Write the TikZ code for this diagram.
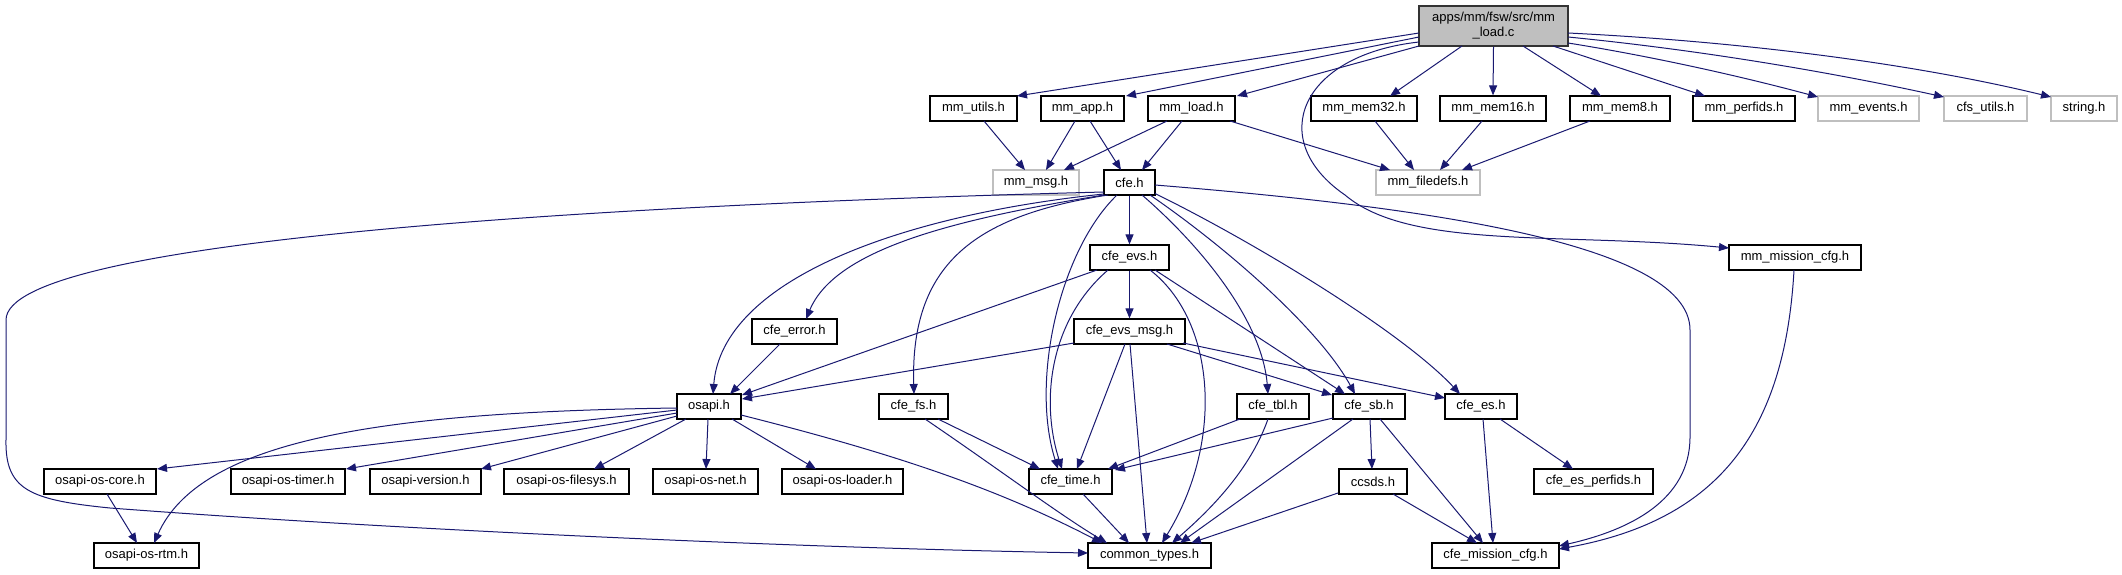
\documentclass[tikz,border=0pt]{standalone}
\usepackage{fontspec}
\setmainfont{Liberation Sans}
\usetikzlibrary{arrows.meta}
\definecolor{edgec}{HTML}{191970}
\definecolor{gbord}{HTML}{BFBFBF}
\tikzset{
  box/.style={draw=black, fill=white, line width=1.2pt, inner sep=0pt, minimum height=25pt,
    font=\fontsize{13}{15}\selectfont},
  gbox/.style={box, draw=gbord},
  mainbox/.style={box, fill=gbord, draw=black!80, minimum height=40pt, align=center,
    font=\fontsize{13}{15}\selectfont},
  edge/.style={draw=edgec, line width=1pt, -{Triangle[length=10pt,width=8pt]}}
}
\begin{document}
\begin{tikzpicture}[x=1pt,y=-1pt]
\useasboundingbox (0,0) rectangle (2122,575);
% nodes
\node[mainbox, minimum width=149pt] (main) at (1493.5,26) {apps/mm/fsw/src/mm\\\_load.c};
\node[box, minimum width=87pt] (mmutils) at (973.5,108.5) {mm\_utils.h};
\node[box, minimum width=83pt] (mmapp) at (1082.5,108.5) {mm\_app.h};
\node[box, minimum width=87pt] (mmload) at (1191.5,108.5) {mm\_load.h};
\node[box, minimum width=106pt] (mmmem32) at (1364,108.5) {mm\_mem32.h};
\node[box, minimum width=106pt] (mmmem16) at (1493,108.5) {mm\_mem16.h};
\node[box, minimum width=100pt] (mmmem8) at (1620,108.5) {mm\_mem8.h};
\node[box, minimum width=102pt] (mmperfids) at (1744,108.5) {mm\_perfids.h};
\node[gbox, minimum width=101pt] (mmevents) at (1868.5,108.5) {mm\_events.h};
\node[gbox, minimum width=83pt] (cfsutils) at (1985.5,108.5) {cfs\_utils.h};
\node[gbox, minimum width=66pt] (stringh) at (2084,108.5) {string.h};
\node[gbox, minimum width=86pt] (mmmsg) at (1036,182.5) {mm\_msg.h};
\node[box, minimum width=51pt] (cfe) at (1129.5,182.5) {cfe.h};
\node[gbox, minimum width=104pt] (mmfiledefs) at (1428,182.5) {mm\_filedefs.h};
\node[box, minimum width=79pt] (cfeevs) at (1129.5,257.5) {cfe\_evs.h};
\node[box, minimum width=132pt] (mmmission) at (1795,257.5) {mm\_mission\_cfg.h};
\node[box, minimum width=85pt] (cfeerror) at (794.5,331.5) {cfe\_error.h};
\node[box, minimum width=111pt] (cfeevsmsg) at (1129.5,331.5) {cfe\_evs\_msg.h};
\node[box, minimum width=64pt] (osapi) at (709,406.5) {osapi.h};
\node[box, minimum width=69pt] (cfefs) at (913.5,406.5) {cfe\_fs.h};
\node[box, minimum width=72pt] (cfetbl) at (1273,406.5) {cfe\_tbl.h};
\node[box, minimum width=72pt] (cfesb) at (1369,406.5) {cfe\_sb.h};
\node[box, minimum width=72pt] (cfees) at (1481,406.5) {cfe\_es.h};
\node[box, minimum width=112pt] (oscore) at (100,481.5) {osapi-os-core.h};
\node[box, minimum width=114pt] (ostimer) at (288,481.5) {osapi-os-timer.h};
\node[box, minimum width=111pt] (osversion) at (425.5,481.5) {osapi-version.h};
\node[box, minimum width=125pt] (osfilesys) at (566.5,481.5) {osapi-os-filesys.h};
\node[box, minimum width=105pt] (osnet) at (705.5,481.5) {osapi-os-net.h};
\node[box, minimum width=121pt] (osloader) at (842.5,481.5) {osapi-os-loader.h};
\node[box, minimum width=83pt] (cfetime) at (1070.5,481.5) {cfe\_time.h};
\node[box, minimum width=68pt] (ccsds) at (1373,481.5) {ccsds.h};
\node[box, minimum width=119pt] (cfeesperf) at (1593.5,481.5) {cfe\_es\_perfids.h};
\node[box, minimum width=105pt] (osrtm) at (146.5,555.5) {osapi-os-rtm.h};
\node[box, minimum width=123pt] (commontypes) at (1149.5,555.5) {common\_types.h};
\node[box, minimum width=127pt] (cfemission) at (1495.5,555.5) {cfe\_mission\_cfg.h};
% edges from main
\draw[edge] ([shift={(-74.5,7)}]main.center) -- ([shift={(43.5,-12.5)}]mmutils.center);
\draw[edge] ([shift={(-74.5,11)}]main.center) -- ([shift={(43.5,-12.5)}]mmapp.center);
\draw[edge] ([shift={(-74.5,20)}]main.center) -- ([shift={(45.5,-12.5)}]mmload.center);
\draw[edge] ([shift={(-74.5,16)}]main.center) .. controls (1300,55) and (1265,140) .. (1345,195)
   .. controls (1410,250) and (1560,232) .. ([shift={(-66,-9.5)}]mmmission.center);
\draw[edge] ([shift={(-31.5,20)}]main.center) -- ([shift={(26,-12.5)}]mmmem32.center);
\draw[edge] (main.south) -- (mmmem16.north);
\draw[edge] ([shift={(29.5,20)}]main.center) -- ([shift={(-19,-12.5)}]mmmem8.center);
\draw[edge] ([shift={(59.5,20)}]main.center) -- ([shift={(-39,-12.5)}]mmperfids.center);
\draw[edge] ([shift={(74.5,17)}]main.center) .. controls (1650,56) and (1740,76) .. ([shift={(-50.5,-11.5)}]mmevents.center);
\draw[edge] ([shift={(74.5,11)}]main.center) .. controls (1700,50) and (1830,72) .. ([shift={(-41.5,-11.5)}]cfsutils.center);
\draw[edge] ([shift={(74.5,7)}]main.center) .. controls (1750,42) and (1920,65) .. ([shift={(-33,-11.5)}]stringh.center);
% row 1
\draw[edge] ([shift={(10.5,12.5)}]mmutils.center) -- ([shift={(-11,-12.5)}]mmmsg.center);
\draw[edge] ([shift={(-7.5,12.5)}]mmapp.center) -- ([shift={(10,-12.5)}]mmmsg.center);
\draw[edge] ([shift={(7.5,12.5)}]mmapp.center) -- ([shift={(-8.5,-12.5)}]cfe.center);
\draw[edge] ([shift={(-24.5,12.5)}]mmload.center) -- ([shift={(28,-12.5)}]mmmsg.center);
\draw[edge] ([shift={(-9.5,12.5)}]mmload.center) -- ([shift={(12.5,-12.5)}]cfe.center);
\draw[edge] ([shift={(38.5,12.5)}]mmload.center) -- ([shift={(-38,-12.5)}]mmfiledefs.center);
\draw[edge] ([shift={(11,12.5)}]mmmem32.center) -- ([shift={(-14,-12.5)}]mmfiledefs.center);
\draw[edge] ([shift={(-11,12.5)}]mmmem16.center) -- ([shift={(12,-12.5)}]mmfiledefs.center);
\draw[edge] ([shift={(-30,12.5)}]mmmem8.center) -- ([shift={(34,-12.5)}]mmfiledefs.center);
% cfe.h
\draw[edge] (cfe.south) -- (cfeevs.north);
\draw[edge] ([shift={(-25.5,9.5)}]cfe.center) .. controls (600,205) and (6,240) .. (6,320) -- (6,440)
   .. controls (5,490) and (30,500) .. (110,508) .. controls (400,530) and (800,548) .. ([shift={(-61.5,-2.5)}]commontypes.center);
\draw[edge] ([shift={(-25.5,11.5)}]cfe.center) .. controls (900,215) and (722,280) .. ([shift={(4,-12.5)}]osapi.center);
\draw[edge] ([shift={(-25.5,12.5)}]cfe.center) .. controls (950,220) and (835,250) .. ([shift={(11.5,-12.5)}]cfeerror.center);
\draw[edge] ([shift={(-21.5,12.5)}]cfe.center) .. controls (980,215) and (910,260) .. ([shift={(0.5,-12.5)}]cfefs.center);
\draw[edge] ([shift={(-12.5,12.5)}]cfe.center) .. controls (1060,250) and (1030,380) .. ([shift={(-12.5,-12.5)}]cfetime.center);
\draw[edge] ([shift={(12.5,12.5)}]cfe.center) .. controls (1200,245) and (1262,320) .. ([shift={(-5,-12.5)}]cfetbl.center);
\draw[edge] ([shift={(20.5,12.5)}]cfe.center) .. controls (1230,250) and (1320,330) .. ([shift={(-14,-12.5)}]cfesb.center);
\draw[edge] ([shift={(25.5,11)}]cfe.center) .. controls (1250,240) and (1400,330) .. ([shift={(-21,-12.5)}]cfees.center);
\draw[edge] ([shift={(25.5,2.5)}]cfe.center) .. controls (1400,205) and (1690,240) .. (1690,330) -- (1690,437)
   .. controls (1690,500) and (1630,530) .. ([shift={(63.5,-9.5)}]cfemission.center);
% cfe_evs.h
\draw[edge] (cfeevs.south) -- (cfeevsmsg.north);
\draw[edge] ([shift={(-32.5,12.5)}]cfeevs.center) -- ([shift={(33,-11.5)}]osapi.center);
\draw[edge] ([shift={(-21.5,12.5)}]cfeevs.center) .. controls (1050,320) and (1040,400) .. ([shift={(-8.5,-12.5)}]cfetime.center);
\draw[edge] ([shift={(20.5,12.5)}]cfeevs.center) .. controls (1215,320) and (1225,440) .. ([shift={(12.5,-12.5)}]commontypes.center);
\draw[edge] ([shift={(25.5,12.5)}]cfeevs.center) -- ([shift={(-24,-12.5)}]cfesb.center);
% cfe_evs_msg.h
\draw[edge] ([shift={(-55.5,11.5)}]cfeevsmsg.center) -- ([shift={(33,-7.5)}]osapi.center);
\draw[edge] ([shift={(-4.5,12.5)}]cfeevsmsg.center) -- ([shift={(6.5,-12.5)}]cfetime.center);
\draw[edge] ([shift={(0.5,12.5)}]cfeevsmsg.center) -- ([shift={(-2.5,-12.5)}]commontypes.center);
\draw[edge] ([shift={(37.5,12.5)}]cfeevsmsg.center) -- ([shift={(-37,-11.5)}]cfesb.center);
\draw[edge] ([shift={(53.5,11.5)}]cfeevsmsg.center) -- ([shift={(-36,-8.5)}]cfees.center);
% cfe_error.h
\draw[edge] ([shift={(-14.5,12.5)}]cfeerror.center) -- ([shift={(21,-12.5)}]osapi.center);
% osapi.h
\draw[edge] ([shift={(-32,3.5)}]osapi.center) -- ([shift={(57,-12.5)}]oscore.center);
\draw[edge] ([shift={(-32,6.5)}]osapi.center) -- ([shift={(58,-12.5)}]ostimer.center);
\draw[edge] ([shift={(-32,9.5)}]osapi.center) -- ([shift={(55.5,-12.5)}]osversion.center);
\draw[edge] ([shift={(-23,12.5)}]osapi.center) -- ([shift={(27.5,-12.5)}]osfilesys.center);
\draw[edge] ([shift={(-1,12.5)}]osapi.center) -- ([shift={(0.5,-12.5)}]osnet.center);
\draw[edge] ([shift={(23,12.5)}]osapi.center) -- ([shift={(-26.5,-12.5)}]osloader.center);
\draw[edge] ([shift={(-32,1.5)}]osapi.center) .. controls (380,412) and (200,440) .. ([shift={(7.5,-12.5)}]osrtm.center);
\draw[edge] ([shift={(32,8.5)}]osapi.center) .. controls (900,455) and (1000,490) .. ([shift={(-47.5,-12.5)}]commontypes.center);
% cfe_fs.h
\draw[edge] ([shift={(24.5,12.5)}]cfefs.center) -- ([shift={(-30.5,-12.5)}]cfetime.center);
\draw[edge] ([shift={(11.5,12.5)}]cfefs.center) .. controls (1000,470) and (1060,515) .. ([shift={(-42.5,-12.5)}]commontypes.center);
% cfe_tbl.h
\draw[edge] ([shift={(-33,12.5)}]cfetbl.center) -- ([shift={(37.5,-12.5)}]cfetime.center);
\draw[edge] ([shift={(-5,12.5)}]cfetbl.center) .. controls (1250,470) and (1210,510) .. ([shift={(22.5,-12.5)}]commontypes.center);
% cfe_sb.h
\draw[edge] ([shift={(-36,11.5)}]cfesb.center) -- ([shift={(44.5,-11.5)}]cfetime.center);
\draw[edge] ([shift={(-16,12.5)}]cfesb.center) -- ([shift={(30.5,-12.5)}]commontypes.center);
\draw[edge] ([shift={(1,12.5)}]cfesb.center) -- ([shift={(-1,-12.5)}]ccsds.center);
\draw[edge] ([shift={(11,12.5)}]cfesb.center) -- ([shift={(-12.5,-12.5)}]cfemission.center);
% cfe_es.h
\draw[edge] ([shift={(2,12.5)}]cfees.center) -- ([shift={(-2.5,-12.5)}]cfemission.center);
\draw[edge] ([shift={(19,12.5)}]cfees.center) -- ([shift={(-20.5,-12.5)}]cfeesperf.center);
% ccsds.h
\draw[edge] ([shift={(-35,11.5)}]ccsds.center) -- ([shift={(41.5,-12.5)}]commontypes.center);
\draw[edge] ([shift={(20,12.5)}]ccsds.center) -- ([shift={(-18.5,-12.5)}]cfemission.center);
% cfe_time.h
\draw[edge] ([shift={(12.5,12.5)}]cfetime.center) -- ([shift={(-20.5,-12.5)}]commontypes.center);
% osapi-os-core.h
\draw[edge] ([shift={(7,12.5)}]oscore.center) -- ([shift={(-9.5,-12.5)}]osrtm.center);
% mm_mission_cfg.h
\draw[edge] ([shift={(-1,12.5)}]mmmission.center) .. controls (1785,430) and (1720,520) .. ([shift={(63.5,-6.5)}]cfemission.center);
\end{tikzpicture}
\end{document}
